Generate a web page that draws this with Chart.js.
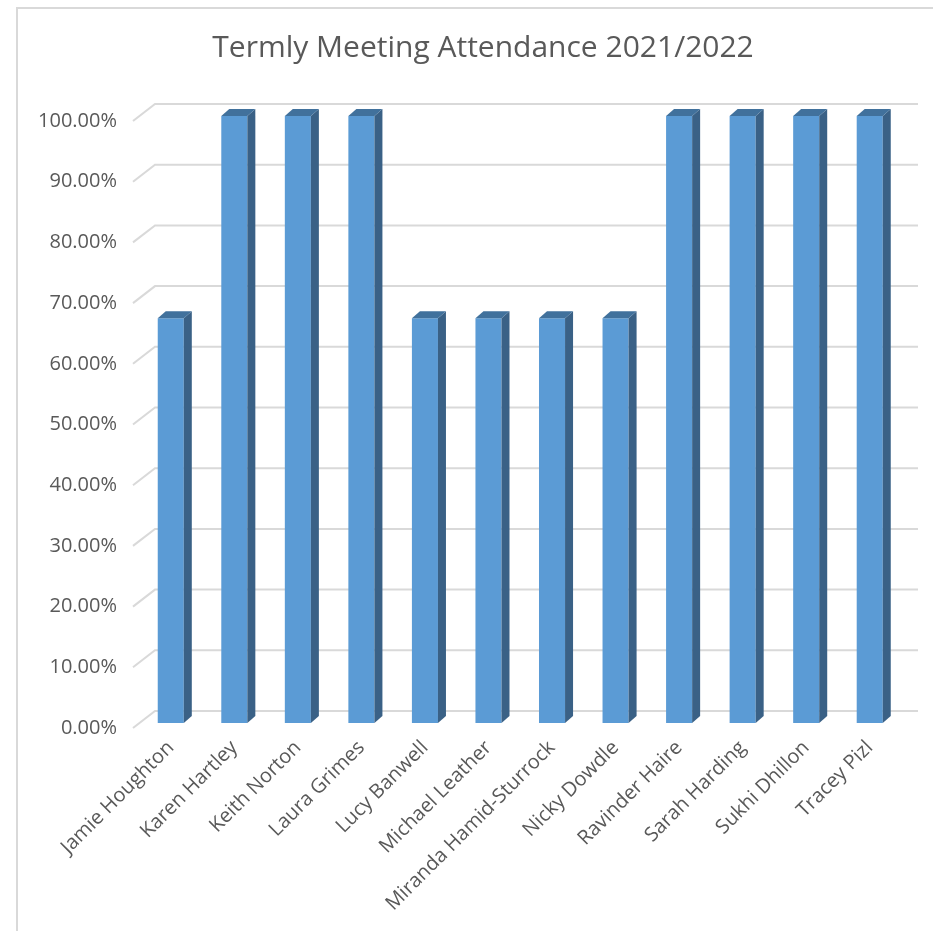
<!DOCTYPE html>
<html>
<head>
<meta charset="utf-8">
<script src="https://cdn.jsdelivr.net/npm/chart.js@4/dist/chart.umd.min.js"></script>
<style>
  html, body { margin: 0; padding: 0; background: #fff; }
  canvas { display: block; }
</style>
</head>
<body>
<canvas id="chart" width="933" height="931"></canvas>
<script>
const chartTitle = 'Termly Meeting Attendance 2021/2022';
const names = [
  'Jamie Houghton', 'Karen Hartley', 'Keith Norton', 'Laura Grimes',
  'Lucy Banwell', 'Michael Leather', 'Miranda Hamid-Sturrock', 'Nicky Dowdle',
  'Ravinder Haire', 'Sarah Harding', 'Sukhi Dhillon', 'Tracey Pizl'
];
const attendance = [66.67, 100, 100, 100, 66.67, 66.67, 66.67, 66.67, 100, 100, 100, 100];

const FONT = '"Open Sans", "Noto Sans", sans-serif';
const TEXT_GREY = '#595959';

// fake 3D: back wall grid + bar side/top faces, title over the full frame
const depth3d = {
  id: 'depth3d',
  beforeDraw(chart) {
    const ctx = chart.ctx;
    ctx.save();
    ctx.fillStyle = '#fff';
    ctx.fillRect(0, 0, chart.width, chart.height);
    // outer chart border
    ctx.strokeStyle = '#d9d9d9';
    ctx.lineWidth = 2;
    ctx.strokeRect(17, 8, 960, 960);
    // title (frame runs past the page, so centre it on the frame)
    ctx.fillStyle = TEXT_GREY;
    ctx.font = '30px ' + FONT;
    ctx.textAlign = 'center';
    ctx.textBaseline = 'middle';
    ctx.fillText(chartTitle, 483, 48);
    ctx.restore();
  },
  beforeDatasetsDraw(chart) {
    const ctx = chart.ctx;
    const y = chart.scales.y;
    ctx.save();
    ctx.strokeStyle = '#d9d9d9';
    ctx.lineWidth = 2;
    y.ticks.forEach(t => {
      const py = y.getPixelForValue(t.value);
      ctx.beginPath();
      ctx.moveTo(133, py);
      ctx.lineTo(155, py - 17);
      ctx.lineTo(918, py - 17);
      ctx.stroke();
    });
    ctx.restore();
    ctx.save();
    ctx.translate(0, -5);
  },
  afterDatasetsDraw(chart) {
    const ctx = chart.ctx;
    const dx = 8, dy = -7;
    chart.getDatasetMeta(0).data.forEach(bar => {
      const left = bar.x - bar.width / 2;
      const right = bar.x + bar.width / 2;
      const top = bar.y, bottom = bar.base;
      ctx.fillStyle = '#3a6186';
      ctx.beginPath();
      ctx.moveTo(right, top);
      ctx.lineTo(right + dx, top + dy);
      ctx.lineTo(right + dx, bottom + dy);
      ctx.lineTo(right, bottom);
      ctx.closePath();
      ctx.fill();
      ctx.fillStyle = '#41719c';
      ctx.beginPath();
      ctx.moveTo(left, top);
      ctx.lineTo(left + dx, top + dy);
      ctx.lineTo(right + dx, top + dy);
      ctx.lineTo(right, top);
      ctx.closePath();
      ctx.fill();
    });
    ctx.restore();
  }
};

new Chart(document.getElementById('chart').getContext('2d'), {
  type: 'bar',
  data: {
    labels: names,
    datasets: [{
      data: attendance,
      backgroundColor: '#5b9bd5',
      borderWidth: 0,
      barPercentage: 0.41,
      categoryPercentage: 1
    }]
  },
  options: {
    responsive: false,
    animation: false,
    devicePixelRatio: 1,
    layout: { padding: { left: 34, right: 31.5, top: 121, bottom: 0 } },
    plugins: {
      legend: { display: false },
      tooltip: { enabled: false },
      title: { display: false }
    },
    scales: {
      x: {
        grid: { display: false, drawTicks: false },
        border: { display: false },
        ticks: {
          color: TEXT_GREY,
          font: { family: FONT, size: 20 },
          maxRotation: 45, minRotation: 45,
          padding: 8
        },
        afterFit(scale) { scale.height = 203; }
      },
      y: {
        min: 0, max: 100,
        grid: { display: false, drawTicks: false },
        border: { display: false },
        ticks: {
          stepSize: 10,
          color: TEXT_GREY,
          font: { family: FONT, size: 20 },
          padding: 22,
          callback: v => v.toFixed(2) + '%'
        },
        afterFit(scale) { scale.width = 105; }
      }
    }
  },
  plugins: [depth3d]
});
</script>
</body>
</html>
